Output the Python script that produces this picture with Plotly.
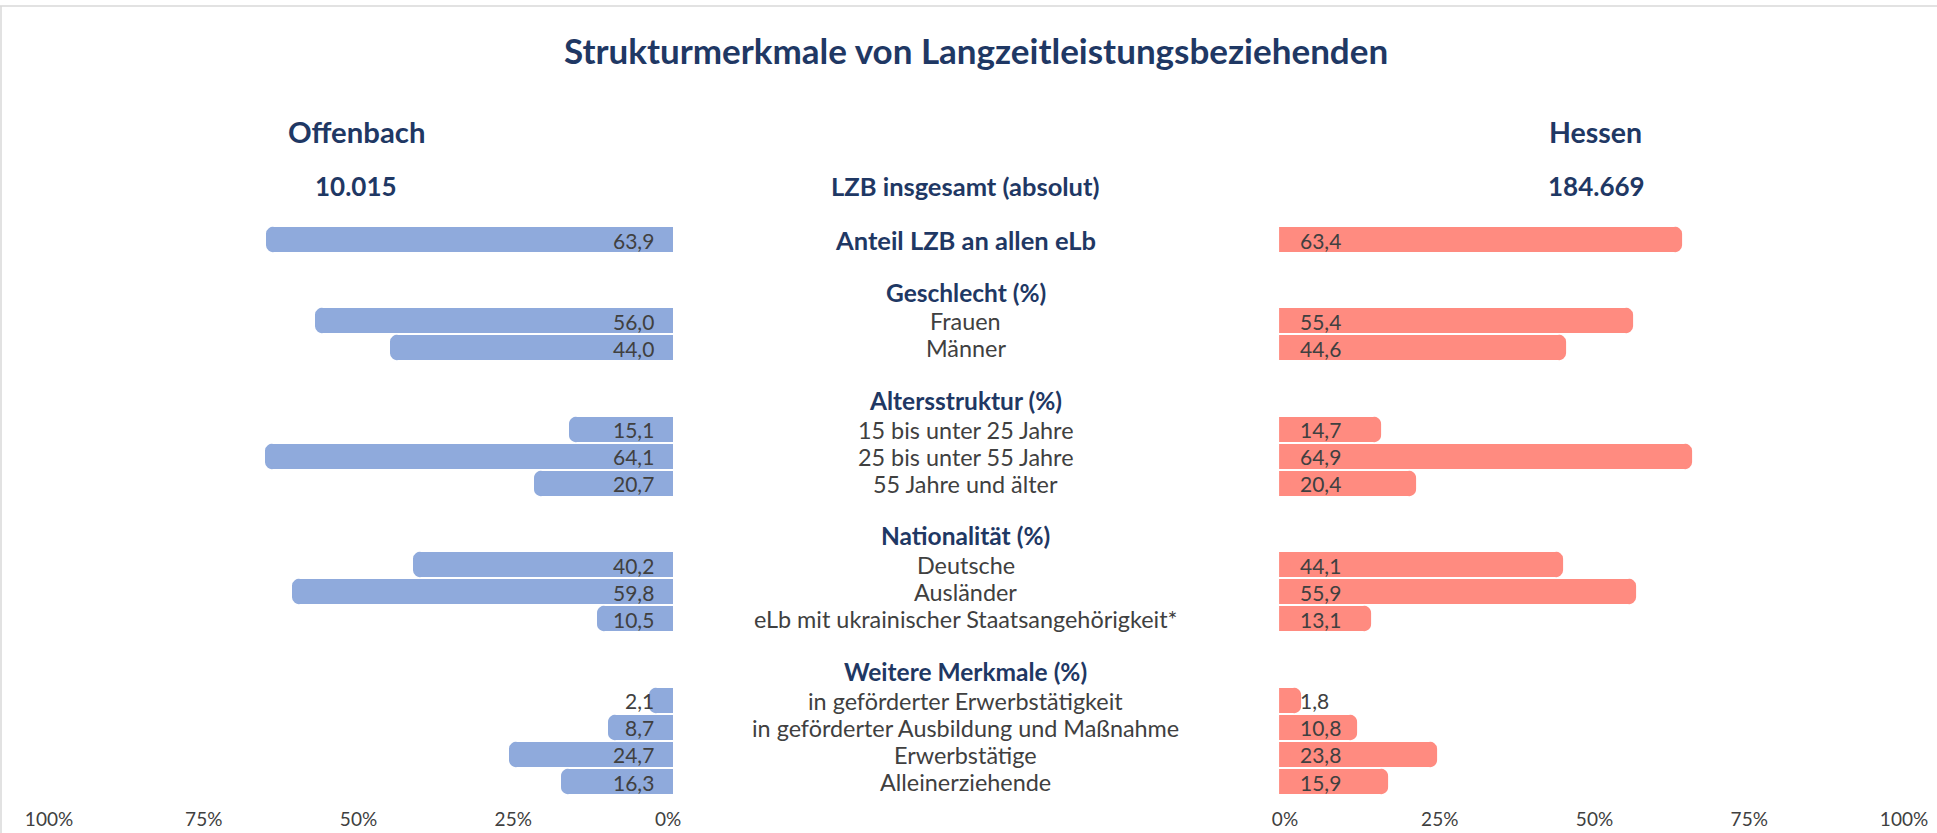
import plotly.graph_objects as go

# ---------------- data ----------------
title = "Strukturmerkmale von Langzeitleistungsbeziehenden"
region_left = "Offenbach"
region_right = "Hessen"
total_left = "10.015"
total_right = "184.669"
total_label = "LZB insgesamt (absolut)"

top_label = "Anteil LZB an allen eLb"
top_left = 63.9
top_right = 63.4

section_headers = ["Geschlecht (%)", "Altersstruktur (%)", "Nationalität (%)", "Weitere Merkmale (%)"]
section_items = [
    ["Frauen", "Männer"],
    ["15 bis unter 25 Jahre", "25 bis unter 55 Jahre", "55 Jahre und älter"],
    ["Deutsche", "Ausländer", "eLb mit ukrainischer Staatsangehörigkeit*"],
    ["in geförderter Erwerbstätigkeit", "in geförderter Ausbildung und Maßnahme",
     "Erwerbstätige", "Alleinerziehende"],
]
offenbach_values = [
    [56.0, 44.0],
    [15.1, 64.1, 20.7],
    [40.2, 59.8, 10.5],
    [2.1, 8.7, 24.7, 16.3],
]
hessen_values = [
    [55.4, 44.6],
    [14.7, 64.9, 20.4],
    [44.1, 55.9, 13.1],
    [1.8, 10.8, 23.8, 15.9],
]
tick_vals = [0, 25, 50, 75, 100]
tick_text = ["0%", "25%", "50%", "75%", "100%"]

# ---------------- styles ----------------
NAVY = "#1F3864"
GREY = "#404040"
BLUE = "#8FAADC"
SALMON = "#FF8B80"
FONT = "Lato, Carlito, Calibri, sans-serif"

# build row layout (row index -> vertical slot)
rows_y, rows_label, rows_left, rows_right = [0], [top_label], [top_left], [top_right]
header_rows = []
r = 2
for h, items, lv, rv in zip(section_headers, section_items, offenbach_values, hessen_values):
    header_rows.append((r, h))
    r += 1
    for it, a, b in zip(items, lv, rv):
        rows_y.append(r)
        rows_label.append(it)
        rows_left.append(a)
        rows_right.append(b)
        r += 1
    r += 1

def fmt(v):
    return f"{v:.1f}".replace(".", ",")

BAR_W = 0.52
STROKE = 11
fig = go.Figure()
fig.add_trace(go.Bar(
    x=rows_left, y=rows_y, orientation="h", xaxis="x", yaxis="y",
    marker=dict(color=BLUE, cornerradius=2, line=dict(color=BLUE, width=STROKE)),
    width=BAR_W, showlegend=False, hoverinfo="skip",
))
fig.add_trace(go.Bar(
    x=rows_right, y=rows_y, orientation="h", xaxis="x2", yaxis="y",
    marker=dict(color=SALMON, cornerradius=2, line=dict(color=SALMON, width=STROKE)),
    width=BAR_W, showlegend=False, hoverinfo="skip",
))

VAL_SIZE = 21
TXT_SIZE = 23.4
HDR_SIZE = 24.5
BIG_SIZE = 25.5

def center_ann(x, y, text, size, color):
    return dict(x=x, y=y, xref="paper", yref="y", text=text, showarrow=False,
                xanchor="center", yanchor="middle",
                font=dict(size=size, color=color, family=FONT))

ann = []
# value labels
for y, a, b in zip(rows_y, rows_left, rows_right):
    ann.append(dict(x=0, y=y, xref="x", yref="y", text=fmt(a), showarrow=False,
                    xanchor="right", xshift=-12.5, font=dict(size=VAL_SIZE, color=GREY, family=FONT)))
    ann.append(dict(x=0, y=y, xref="x2", yref="y", text=fmt(b), showarrow=False,
                    xanchor="left", xshift=13.3, font=dict(size=VAL_SIZE, color=GREY, family=FONT)))
# center labels
for y, lab in zip(rows_y, rows_label):
    if lab == top_label:
        ann.append(center_ann(0.4985, y, f"<b>{lab}</b>", BIG_SIZE, NAVY))
    else:
        ann.append(center_ann(0.4985, y, lab, TXT_SIZE, GREY))
for y, h in header_rows:
    ann.append(center_ann(0.4985, y - 0.08, f"<b>{h}</b>", HDR_SIZE, NAVY))
# totals row and region headers
ann.append(center_ann(0.4985, -2, f"<b>{total_label}</b>", BIG_SIZE, NAVY))
ann.append(center_ann(356 / 1937, -2, f"<b>{total_left}</b>", 26, NAVY))
ann.append(center_ann(1596 / 1937, -2, f"<b>{total_right}</b>", 26, NAVY))
ann.append(center_ann(356 / 1937, -4, f"<b>{region_left}</b>", 29.3, NAVY))
ann.append(center_ann(1595 / 1937, -4, f"<b>{region_right}</b>", 28.5, NAVY))
ann.append(center_ann(976 / 1937, -7, f"<b>{title}</b>", 35, NAVY))

W, H = 1937, 833
row_px = 27.1
row0_px = 240
bottom_px = 806
y_top = -row0_px / row_px
y_bot = (bottom_px - row0_px) / row_px

PX_PER_UNIT = 6.19
PAD = 1.6
L0, R0 = 668, 1285  # pixel of 0 % on left / right axis
left_dom = [(L0 - 100 * PX_PER_UNIT) / W, (L0 + PAD * PX_PER_UNIT) / W]
right_dom = [(R0 - PAD * PX_PER_UNIT) / W, (R0 + 100 * PX_PER_UNIT) / W]

axis_common = dict(tickvals=tick_vals, ticktext=tick_text, showgrid=False, zeroline=False,
                   showline=False, ticks="", tickfont=dict(size=19, color=GREY, family=FONT),
                   anchor="y", fixedrange=True, automargin=False)

fig.update_layout(
    template="none",
    width=W, height=H, autosize=False, margin=dict(l=0, r=0, t=0, b=0, pad=0),
    paper_bgcolor="white", plot_bgcolor="white",
    bargap=0, showlegend=False,
    xaxis=dict(domain=left_dom, range=[100, -PAD], **axis_common),
    xaxis2=dict(domain=right_dom, range=[-PAD, 100], **axis_common),
    yaxis=dict(domain=[(H - bottom_px) / H, 1], range=[y_bot, y_top], visible=False,
               fixedrange=True, automargin=False),
    annotations=ann,
    shapes=[
        dict(type="line", xref="paper", yref="paper", x0=0, x1=1, y0=(H - 6) / H, y1=(H - 6) / H,
             line=dict(color="#D9D9D9", width=1.5)),
        dict(type="line", xref="paper", yref="paper", x0=1 / W, x1=1 / W, y0=0, y1=(H - 6) / H,
             line=dict(color="#D9D9D9", width=1.5)),
    ],
)

fig.write_html(
    "out.html",
    config={"responsive": False, "displayModeBar": False},
    post_script="document.body.style.margin='0';document.body.style.overflow='hidden';",
)
